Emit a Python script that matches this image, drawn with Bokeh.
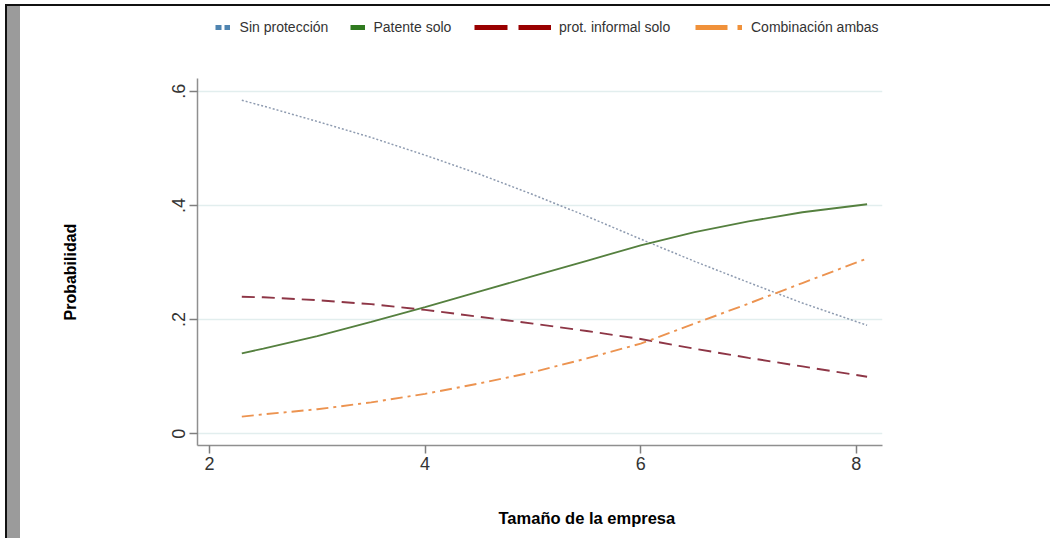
import math
from bokeh.plotting import figure
from bokeh.models import Range1d, FixedTicker, Legend, LegendItem, Title, Div
from bokeh.layouts import row, column
from bokeh.embed import file_html
from bokeh.resources import INLINE

# ---- data ----
x_size = [2.3, 2.5, 3.0, 3.5, 4.0, 4.5, 5.0, 5.5, 6.0, 6.5, 7.0, 7.5, 8.1]
sin_proteccion = [0.584, 0.574, 0.547, 0.519, 0.488, 0.455, 0.419, 0.381, 0.341, 0.302, 0.265, 0.229, 0.190]
patente_solo = [0.141, 0.149, 0.171, 0.196, 0.222, 0.249, 0.276, 0.303, 0.330, 0.353, 0.372, 0.388, 0.402]
prot_informal = [0.240, 0.239, 0.234, 0.227, 0.217, 0.205, 0.193, 0.180, 0.166, 0.149, 0.133, 0.118, 0.100]
combinacion = [0.030, 0.034, 0.043, 0.055, 0.070, 0.088, 0.108, 0.132, 0.158, 0.193, 0.228, 0.264, 0.307]

series_names = ["Sin protección", "Patente solo", "prot. informal solo", "Combinación ambas"]
series_values = [sin_proteccion, patente_solo, prot_informal, combinacion]
x_ticks = [2, 4, 6, 8]
y_ticks = [0, 0.2, 0.4, 0.6]
y_tick_labels = ["0", ".2", ".4", ".6"]
x_title = "Tamaño de la empresa"
y_title = "Probabilidad"

FONT = "Liberation Sans"
Y_LO, Y_AX_HI = -0.0205, 0.6217

p = figure(width=1030, height=532, output_backend="svg", toolbar_location=None,
           x_range=Range1d(1.889, 8.243), y_range=Range1d(Y_LO, 0.7413),
           min_border_left=177, min_border_right=168, min_border_top=4, min_border_bottom=93,
           margin=0)
p.outline_line_color = None
p.background_fill_color = "white"
p.border_fill_color = "white"
p.xgrid.visible = False
p.ygrid.grid_line_color = "#e2eeee"
p.ygrid.grid_line_width = 1.5

p.xaxis.ticker = FixedTicker(ticks=x_ticks)
p.yaxis.ticker = FixedTicker(ticks=y_ticks)
p.yaxis.bounds = (Y_LO, Y_AX_HI)
p.yaxis.major_label_overrides = dict(zip(y_ticks, y_tick_labels))
p.yaxis.major_label_orientation = "vertical"
for ax in (p.xaxis, p.yaxis):
    ax.axis_line_color = "#8f8f8f"
    ax.axis_line_width = 1.5
    ax.major_tick_line_color = "#7f7f7f"
    ax.major_tick_line_width = 1.5
    ax.major_tick_out = 8
    ax.major_tick_in = 0
    ax.minor_tick_line_color = None
    ax.major_label_text_font = FONT
    ax.major_label_text_font_size = "18px"
    ax.major_label_text_color = "#333333"
p.yaxis.major_label_standoff = 4
p.xaxis.major_label_standoff = 3

# ---- curves ----
styles = [
    ("#8e9bb0", 1.5, "2 2"),
    ("#55803f", 1.8, "solid"),
    ("#8e3646", 1.9, "13 7"),
    ("#ec9350", 1.9, "12 5 3 5"),
]
for vals, (col, lw, dash) in zip(series_values, styles):
    p.line(x_size, vals, line_color=col, line_width=lw, line_dash=dash)

# ---- legend (one block per entry, thick swatches as in the original) ----
leg_specs = [
    ("#4f84b0", "6 3", 15, 10, 17.6),
    ("#2f7a1f", "solid", 15, 9, 152.5),
    ("#990000", "33 11", 77, 8, 277),
    ("#f0913a", "32 10 5 10", 47, 9, 498),
]
for name, vals, (col, dash, gw, so, lx) in zip(series_names, series_values, leg_specs):
    r = p.line(x_size, vals, line_color=col, line_width=5, line_dash=dash, visible=False)
    leg = Legend(items=[LegendItem(label=name, renderers=[r])], location=(lx, 408),
                 orientation="horizontal", glyph_width=gw, glyph_height=20, label_height=20,
                 label_standoff=so, padding=0, margin=0, spacing=0,
                 border_line_color=None, background_fill_alpha=0,
                 label_text_font=FONT, label_text_font_size="14px", label_text_color="#333333")
    p.add_layout(leg, "center")

# ---- axis titles (placed like the original) ----
p.add_layout(Title(text=" ", standoff=0, text_font=FONT, text_font_size="29px"), "below")
p.add_layout(Title(text=x_title, align="left", offset=301, standoff=0,
                   text_font=FONT, text_font_style="bold", text_font_size="16.5px",
                   text_color="black"), "below")
p.add_layout(Title(text=" ", standoff=0, text_font=FONT, text_font_size="80px"), "left")
p.add_layout(Title(text=y_title, align="left", offset=125, standoff=0,
                   text_font=FONT, text_font_style="bold", text_font_size="16px",
                   text_color="black"), "left")

top_bar = Div(width=1045, height=2, margin=0, styles={"background-color": "#111111"})
side_bar = Div(width=15, height=532, margin=0,
               styles={"background-color": "#9b9b9b", "border-left": "2px solid #111111",
                       "box-sizing": "border-box"})
layout = column(top_bar, row(side_bar, p, spacing=0, margin=0), spacing=0, margin=(4, 0, 0, 5))

open("out.html", "w").write(file_html(layout, INLINE))
